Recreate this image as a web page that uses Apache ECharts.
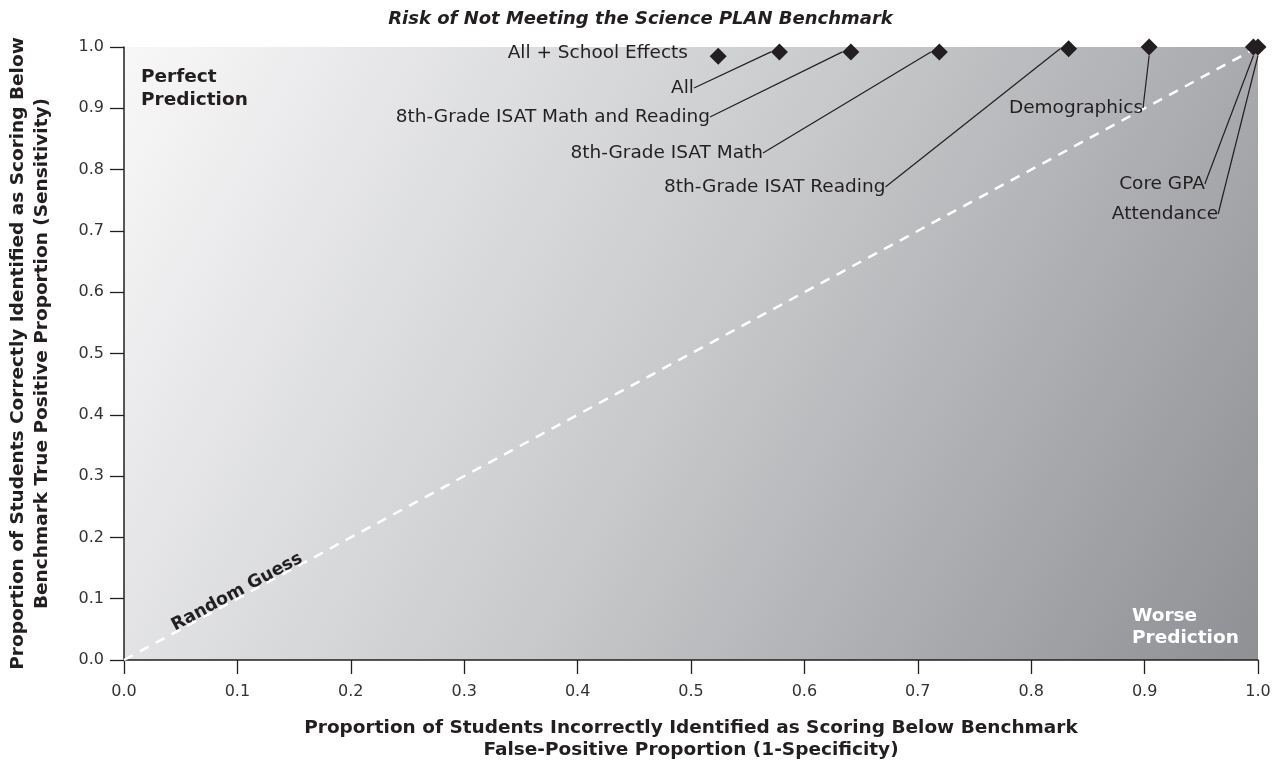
<!DOCTYPE html>
<html>
<head>
<meta charset="utf-8">
<script src="https://cdn.jsdelivr.net/npm/echarts@6/dist/echarts.min.js"></script>
<style>html,body{margin:0;padding:0;background:#fff;}#c{width:1281px;height:763px;}</style>
</head>
<body>
<div id="c"></div>
<script>
// ---- data ----
const models = ['All + School Effects', 'All', '8th-Grade ISAT Math and Reading', '8th-Grade ISAT Math', '8th-Grade ISAT Reading', 'Demographics', 'Core GPA', 'Attendance'];
const falsePositive = [0.524, 0.578, 0.641, 0.719, 0.833, 0.904, 0.996, 1.0];
const truePositive = [0.985, 0.992, 0.992, 0.992, 0.997, 1.0, 1.0, 1.0];
const randomGuess = [[0, 0], [1, 1]];

// ---- label layout (pixel placement of annotations) ----
const labelPlace = [
  {x: 688, y: 53, align: 'right', line: false},
  {x: 694, y: 88, align: 'right', line: true},
  {x: 710, y: 117, align: 'right', line: true},
  {x: 763, y: 153, align: 'right', line: true},
  {x: 664, y: 187, align: 'left', line: true},
  {x: 1076, y: 108, align: 'center', line: true},
  {x: 1162, y: 184, align: 'center', line: true},
  {x: 1165, y: 214, align: 'center', line: true}
];

const FONT = '"DejaVu Sans", sans-serif';
const chart = echarts.init(document.getElementById('c'));
const pts = models.map((m, i) => ({
  name: m,
  value: [falsePositive[i], truePositive[i]],
  labelLine: {show: labelPlace[i].line}
}));

chart.setOption({
  animation: false,
  title: {
    text: 'Risk of Not Meeting the Science PLAN Benchmark',
    left: 'center', top: 5,
    textStyle: {fontFamily: FONT, fontSize: 18, fontWeight: 'bold', fontStyle: 'italic', color: '#231f20'}
  },
  grid: {
    left: 124, right: 23, top: 47, bottom: 103, show: true, borderWidth: 0,
    outerBoundsMode: 'none', containLabel: false,
    backgroundColor: new echarts.graphic.LinearGradient(0, 0, 1, 1, [
      {offset: 0, color: '#f8f8f9'},
      {offset: 0.5, color: '#c8c9cb'},
      {offset: 1, color: '#8f9094'}
    ])
  },
  xAxis: {
    type: 'value', min: 0, max: 1, interval: 0.1,
    name: 'Proportion of Students Incorrectly Identified as Scoring Below Benchmark\nFalse-Positive Proportion (1-Specificity)',
    nameLocation: 'middle', nameGap: 57, nameMoveOverlap: false,
    nameTextStyle: {fontFamily: FONT, fontSize: 18.5, fontWeight: 'bold', color: '#231f20', lineHeight: 22},
    axisLine: {lineStyle: {color: '#231f20', width: 1.5}},
    axisTick: {show: true, length: 14, lineStyle: {color: '#231f20', width: 1.3}},
    axisLabel: {fontFamily: FONT, fontSize: 16, color: '#333', margin: 24,
      formatter: v => v.toFixed(1)},
    splitLine: {show: false}
  },
  yAxis: {
    type: 'value', min: 0, max: 1, interval: 0.1,
    name: 'Proportion of Students Correctly Identified as Scoring Below\nBenchmark True Positive Proportion (Sensitivity)',
    nameLocation: 'middle', nameGap: 70, nameRotate: 90,
    nameTextStyle: {fontFamily: FONT, fontSize: 18.5, fontWeight: 'bold', color: '#231f20', lineHeight: 24},
    axisLine: {show: true, lineStyle: {color: '#231f20', width: 1.5}},
    axisTick: {show: true, length: 14, lineStyle: {color: '#231f20', width: 1.3}},
    axisLabel: {fontFamily: FONT, fontSize: 16, color: '#333', margin: 20,
      formatter: v => v.toFixed(1)},
    splitLine: {show: false}
  },
  series: [
    {
      type: 'line',
      data: randomGuess,
      symbol: 'none',
      lineStyle: {color: '#ffffff', width: 2.5, type: [10, 8]},
      z: 2
    },
    {
      type: 'scatter',
      data: pts,
      symbol: 'diamond',
      symbolSize: 17,
      itemStyle: {color: '#231f20', opacity: 1},
      label: {
        show: true,
        formatter: p => p.name,
        fontFamily: FONT, fontSize: 18.5, color: '#231f20'
      },
      labelLine: {show: true, lineStyle: {color: '#231f20', width: 1.2}},
      labelLayout: p => {
        const l = labelPlace[p.dataIndex];
        return {x: l.x, y: l.y, align: l.align, verticalAlign: 'middle'};
      },
      z: 5
    }
  ],
  graphic: [
    {type: 'text', left: 141, top: 66, z: 10,
      style: {text: 'Perfect\nPrediction', fontFamily: FONT, fontSize: 18.5, fontWeight: 'bold', fill: '#231f20', lineHeight: 23}},
    {type: 'text', left: 1132, top: 605, z: 10,
      style: {text: 'Worse\nPrediction', fontFamily: FONT, fontSize: 18.5, fontWeight: 'bold', fill: '#ffffff', lineHeight: 22}},
    {type: 'text', x: 237, y: 592, rotation: 28.4 * Math.PI / 180, z: 10,
      style: {text: 'Random Guess', fontFamily: FONT, fontSize: 17.5, fontWeight: 'bold', fill: '#231f20', align: 'center', verticalAlign: 'middle'}}
  ]
});
</script>
</body>
</html>
